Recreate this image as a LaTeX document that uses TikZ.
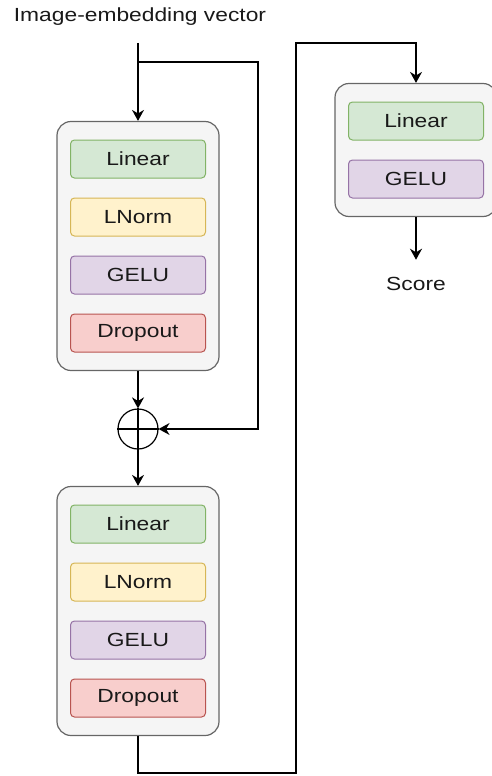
\documentclass[tikz,border=0pt]{standalone}
\usepackage{fontspec}
\setmainfont{Liberation Sans}[FakeStretch=1.2]
\usetikzlibrary{positioning,fit,arrows.meta,backgrounds}

\definecolor{grnfill}{HTML}{D5E8D4}\definecolor{grnline}{HTML}{82B366}
\definecolor{ylwfill}{HTML}{FFF2CC}\definecolor{ylwline}{HTML}{D6B656}
\definecolor{prpfill}{HTML}{E1D5E7}\definecolor{prpline}{HTML}{9673A6}
\definecolor{redfill}{HTML}{F8CECC}\definecolor{redline}{HTML}{B85450}
\definecolor{blkfill}{HTML}{F5F5F5}\definecolor{blkline}{HTML}{666666}

\tikzstyle{blk} = [draw=blkline, fill=blkfill, rounded corners=14pt, line width=1.2pt, inner xsep=13pt, inner ysep=18pt]
\tikzstyle{lyr} = [align=center, rectangle, draw, text centered, rounded corners=4pt, line width=1pt, minimum width=135pt, minimum height=38pt]
\tikzstyle{lin} = [lyr, fill=grnfill, draw=grnline]
\tikzstyle{nrm} = [lyr, fill=ylwfill, draw=ylwline]
\tikzstyle{act} = [lyr, fill=prpfill, draw=prpline]
\tikzstyle{drp} = [lyr, fill=redfill, draw=redline]
\tikzstyle{wire} = [line width=1.4pt, -{Stealth[length=11pt,width=12pt]}]

\begin{document}
\begin{tikzpicture}[x=1pt, y=-1pt, node distance=58pt, every node/.style={font=\fontsize{19}{22}\selectfont, text=black!90}]
\useasboundingbox (0,0) rectangle (492,776);

\node (title) at (140,17) {Image-embedding vector};
\coordinate (in) at (138,43);
\coordinate (split) at (138,62);
\coordinate (skip) at (258,62);

% first block
\node [lin] (lin1) at (138,159) {Linear};
\node [nrm, below of=lin1] (nrm1) {LNorm};
\node [act, below of=nrm1] (act1) {GELU};
\node [drp, below of=act1] (drp1) {Dropout};

\node [circle, draw, line width=1.2pt, minimum size=40pt, inner sep=0pt] (plus) at (138,429) {};
\draw [line width=1.2pt] (plus.north) -- (plus.south) (plus.west) -- (plus.east);

% second block
\node [lin] (lin2) at (138,524) {Linear};
\node [nrm, below of=lin2] (nrm2) {LNorm};
\node [act, below of=nrm2] (act2) {GELU};
\node [drp, below of=act2] (drp2) {Dropout};

% head
\node [lin] (lin3) at (416,121) {Linear};
\node [act, below of=lin3] (act3) {GELU};
\node (score) at (416,284) {Score};

\begin{scope}[on background layer]
\node [blk, fit=(lin1)(drp1)] (blk1) {};
\node [blk, fit=(lin2)(drp2)] (blk2) {};
\node [blk, fit=(lin3)(act3)] (blk3) {};
\end{scope}

\coordinate (down) at (296,773);
\coordinate (top) at (416,43);

\draw [wire] (in) -- (blk1);
\draw [wire] (split) -- (skip) |- (plus);
\draw [wire, line width=2pt] (blk1) -- (plus);
\draw [wire] (plus) -- (blk2);
\draw [wire] (blk2) |- (down) |- (top) -- (blk3);
\draw [wire, line width=2pt, shorten >=14pt] (blk3) -- (score);
\end{tikzpicture}
\end{document}
